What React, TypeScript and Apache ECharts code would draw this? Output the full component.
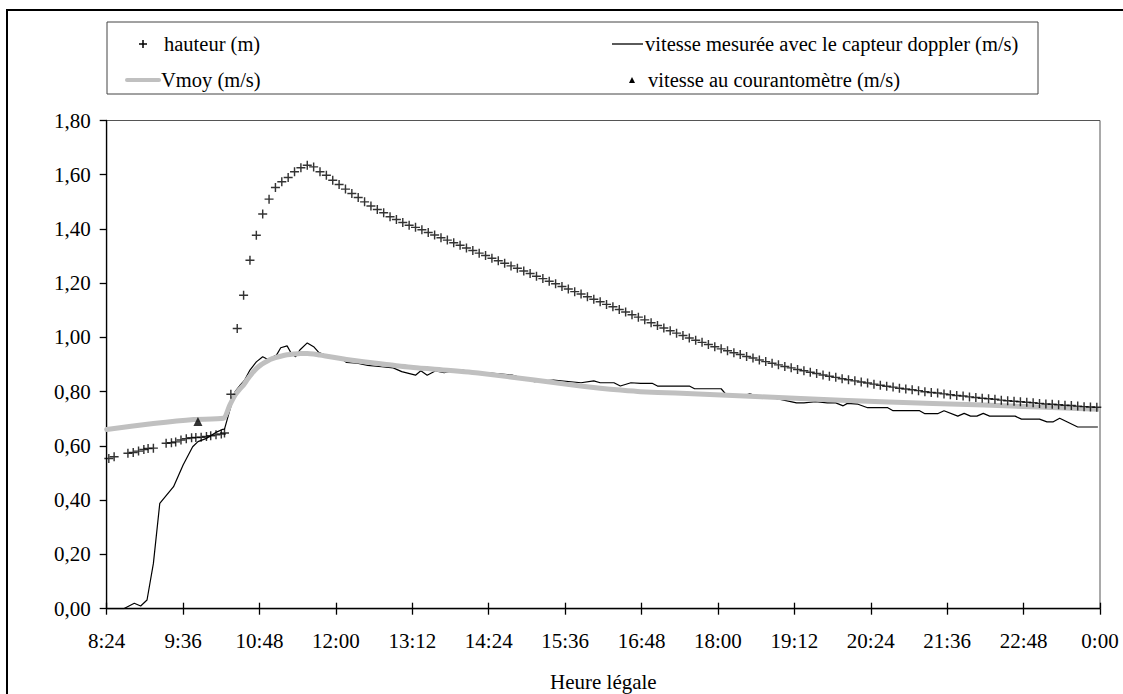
import React, { useEffect, useRef } from "react";
import * as echarts from "echarts";

// ---- data ----
const xTickMin = "8:24";
const xTickMax = "24:00";
const xTickInterval = 72; // minutes
const yTicks = { min: 0, max: 1.8, interval: 0.2 };

// hauteur (m): early readings (irregular) then a regular 6-minute record
const hauteurEarlyTimes = ["8:26","8:31","8:44","8:49","8:54","8:59","9:03","9:08","9:20","9:25","9:29","9:34","9:39","9:44","9:48","9:53","9:58","10:02","10:07","10:12","10:15"];
const hauteurEarlyValues = [0.554,0.560,0.573,0.576,0.581,0.587,0.591,0.592,0.610,0.612,0.615,0.622,0.627,0.630,0.631,0.632,0.635,0.638,0.641,0.644,0.648];
const hauteurStart = "10:21";
const hauteurStep = 6;
const hauteurValues = [
  0.791,1.033,1.156,1.285,1.377,1.455,1.510,1.553,1.574,1.590,
  1.611,1.626,1.635,1.629,1.611,1.598,1.580,1.564,1.547,1.531,
  1.516,1.500,1.485,1.472,1.460,1.445,1.435,1.424,1.414,
  1.406,1.397,1.387,1.378,1.368,1.359,1.349,1.340,1.330,1.321,
  1.311,1.302,1.292,1.283,1.274,1.264,1.255,1.245,1.236,1.226,
  1.217,1.207,1.198,1.188,1.179,1.169,1.160,1.150,1.141,1.132,
  1.122,1.113,1.103,1.094,1.084,1.075,
  1.065,1.054,1.044,1.035,1.025,1.016,1.007,0.998,0.990,0.982,
  0.974,0.966,0.958,0.951,0.944,0.937,0.930,0.924,0.917,0.911,
  0.905,0.899,0.893,0.888,0.882,0.877,0.872,0.867,0.862,0.857,
  0.853,0.848,0.844,0.840,0.836,0.832,0.828,0.824,0.820,0.817,
  0.813,0.810,0.807,0.804,0.800,0.797,0.795,0.792,0.789,0.786,
  0.784,0.781,0.779,0.776,0.774,0.772,0.769,0.767,0.765,0.763,
  0.761,0.759,0.757,0.755,0.754,0.752,0.750,0.749,0.747,0.745,
  0.744,0.743
];

// vitesse mesurée avec le capteur doppler (m/s)
const dopplerTimes = ["8:24","8:40","8:50","8:56","9:02","9:08","9:14","9:27","9:36","9:45","9:50","9:58","10:08","10:13","10:15","10:20","10:25","10:30","10:34","10:39","10:45","10:51","10:56","11:04","11:08","11:14","11:18","11:22","11:26","11:33","11:39","11:44","11:50","11:56","12:01","12:07","12:10","12:20","12:30","12:43","12:54","13:02","13:15","13:20","13:26","13:34","13:42","13:56","14:10","14:23","14:46","15:07","15:25","15:51","16:03","16:09","16:22","16:28","16:38","16:47","16:58","17:03","17:33","17:38","18:03","18:08","18:26","18:30","18:34","18:50","19:14","19:21","19:32","19:43","19:51","19:58","20:02","20:12","20:21","20:40","20:45","21:10","21:15","21:27","21:33","21:46","21:52","21:58","22:04","22:10","22:16","22:40","22:46","23:03","23:10","23:16","23:22","23:39","23:58"];
const dopplerValues = [0,0,0.02,0.01,0.032,0.167,0.388,0.45,0.53,0.597,0.616,0.628,0.652,0.661,0.662,0.732,0.80,0.825,0.843,0.88,0.91,0.929,0.919,0.935,0.962,0.969,0.941,0.929,0.954,0.98,0.966,0.944,0.935,0.925,0.92,0.917,0.908,0.905,0.897,0.892,0.888,0.874,0.861,0.877,0.861,0.877,0.87,0.882,0.872,0.87,0.861,0.837,0.843,0.833,0.84,0.833,0.833,0.821,0.833,0.831,0.831,0.821,0.821,0.811,0.811,0.788,0.788,0.792,0.788,0.779,0.759,0.759,0.763,0.759,0.759,0.748,0.757,0.754,0.741,0.741,0.730,0.730,0.719,0.719,0.730,0.710,0.720,0.710,0.710,0.720,0.710,0.710,0.699,0.699,0.689,0.689,0.702,0.670,0.670];

// Vmoy (m/s)
const vmoyTimes = ["8:24","9:08","9:46","10:14","10:20","10:25","10:29","10:33","10:37","10:41","10:45","10:49","10:54","10:58","11:03","11:08","11:14","11:20","11:27","11:33","11:39","11:45","12:10","12:42","13:13","13:45","14:16","15:07","15:36","16:09","16:28","16:47","17:20","18:03","19:18","20:34","22:11","23:58"];
const vmoyValues = [0.661,0.683,0.698,0.702,0.751,0.788,0.808,0.825,0.848,0.868,0.885,0.898,0.910,0.919,0.926,0.931,0.936,0.939,0.941,0.941,0.939,0.935,0.919,0.903,0.889,0.879,0.868,0.843,0.828,0.813,0.806,0.800,0.795,0.788,0.775,0.763,0.751,0.735];

// vitesse au courantomètre (m/s)
const courantTimes = ["9:50"];
const courantValues = [0.69];

const seriesNames = [
  "hauteur (m)",
  "vitesse mesurée avec le capteur doppler (m/s)",
  "Vmoy (m/s)",
  "vitesse au courantomètre (m/s)",
];
const xAxisTitle = "Heure légale";

// ---- helpers ----
const FONT = "Liberation Serif, Times New Roman, serif";
const toMin = (s: string) => {
  const [h, m] = s.split(":").map(Number);
  return h * 60 + m;
};
const pairs = (times: string[], vals: number[]) => times.map((t, i) => [toMin(t), vals[i]]);
const fmtTime = (v: number) => {
  const m = ((Math.round(v) % 1440) + 1440) % 1440;
  return Math.floor(m / 60) + ":" + String(m % 60).padStart(2, "0");
};

const plusPath = "path://M0,4.2H10V5.8H0Z M4.2,0H5.8V10H4.2Z";

export default function App() {
  const ref = useRef<HTMLDivElement>(null);
  useEffect(() => {
    if (!ref.current) return;
    const chart = echarts.init(ref.current, undefined, { renderer: "svg" });
    const hStart = toMin(hauteurStart);
    const hauteurData = [
      ...pairs(hauteurEarlyTimes, hauteurEarlyValues),
      ...hauteurValues.map((v, i) => [hStart + i * hauteurStep, v]),
    ];
    const axisText = { fontFamily: FONT, fontSize: 21, color: "#000" };
    const legendText = (text: string, x: number, y: number) => ({
      type: "text",
      x,
      y,
      style: { text, fontFamily: FONT, fontSize: 20.5, fill: "#000", verticalAlign: "middle" },
    });
    chart.setOption({
      animation: false,
      backgroundColor: "#fff",
      textStyle: { fontFamily: FONT },
      grid: {
        left: 106.7,
        right: 23,
        top: 120.5,
        bottom: 85.3,
        show: true,
        borderColor: "#555",
        borderWidth: 1,
        backgroundColor: "transparent",
        containLabel: false,
        outerBoundsMode: "none",
      },
      xAxis: [
        {
          type: "value",
          min: toMin(xTickMin),
          max: toMin(xTickMax),
          interval: xTickInterval,
          position: "bottom",
          name: xAxisTitle,
          nameLocation: "middle",
          nameGap: 63,
          nameTextStyle: axisText,
          axisLine: { show: true, onZero: false, lineStyle: { color: "#000", width: 1.3 } },
          axisTick: { show: true, inside: false, length: 6, lineStyle: { color: "#000", width: 1.3 } },
          axisLabel: { ...axisText, margin: 22, formatter: fmtTime },
          splitLine: { show: false },
        },
        {
          type: "value",
          min: toMin(xTickMin),
          max: toMin(xTickMax),
          interval: xTickInterval,
          position: "bottom",
          offset: 0,
          axisLine: { show: false, onZero: false },
          axisTick: { show: true, inside: true, length: 6, lineStyle: { color: "#000", width: 1.3 } },
          axisLabel: { show: false },
          splitLine: { show: false },
        },
      ],
      yAxis: {
        type: "value",
        min: yTicks.min,
        max: yTicks.max,
        interval: yTicks.interval,
        axisLine: { show: true, onZero: false, lineStyle: { color: "#000", width: 1.3 } },
        axisTick: { show: true, inside: false, length: 7, lineStyle: { color: "#000", width: 1.3 } },
        axisLabel: { ...axisText, margin: 16, formatter: (v: number) => v.toFixed(2).replace(".", ",") },
        splitLine: { show: false },
      },
      series: [
        {
          name: seriesNames[1],
          type: "line",
          xAxisIndex: 0,
          data: pairs(dopplerTimes, dopplerValues),
          symbol: "none",
          lineStyle: { color: "#000", width: 1.2 },
          itemStyle: { color: "#000" },
          z: 2,
        },
        {
          name: seriesNames[2],
          type: "line",
          xAxisIndex: 0,
          data: pairs(vmoyTimes, vmoyValues),
          symbol: "none",
          smooth: 0.2,
          lineStyle: { color: "#c0c0c0", width: 5, cap: "round", join: "round" },
          itemStyle: { color: "#c0c0c0" },
          z: 3,
        },
        {
          name: seriesNames[0],
          type: "scatter",
          xAxisIndex: 0,
          data: hauteurData,
          symbol: plusPath,
          symbolSize: 9,
          itemStyle: { color: "#000" },
          z: 4,
        },
        {
          name: seriesNames[3],
          type: "scatter",
          xAxisIndex: 0,
          data: pairs(courantTimes, courantValues),
          symbol: "triangle",
          symbolSize: 9,
          itemStyle: { color: "#000" },
          z: 5,
        },
      ],
      graphic: [
        {
          type: "rect",
          silent: true,
          z: -10,
          shape: { x: 7, y: 10, width: 1200, height: 800 },
          style: { fill: "none", stroke: "#000", lineWidth: 2 },
        },
        {
          type: "rect",
          silent: true,
          shape: { x: 107, y: 22, width: 931, height: 72 },
          style: { fill: "#fff", stroke: "#444", lineWidth: 1 },
        },
        {
          type: "group",
          silent: true,
          children: [
            { type: "line", shape: { x1: 139, y1: 44, x2: 147, y2: 44 }, style: { stroke: "#000", lineWidth: 1.5 } },
            { type: "line", shape: { x1: 143, y1: 40, x2: 143, y2: 48 }, style: { stroke: "#000", lineWidth: 1.5 } },
            legendText(seriesNames[0], 164, 44),
            { type: "line", shape: { x1: 127, y1: 80, x2: 159, y2: 80 }, style: { stroke: "#c0c0c0", lineWidth: 4, lineCap: "round" } },
            legendText(seriesNames[2], 161, 80),
            { type: "line", shape: { x1: 612, y1: 44, x2: 643, y2: 44 }, style: { stroke: "#000", lineWidth: 1.3 } },
            legendText(seriesNames[1], 645, 44),
            { type: "polygon", shape: { points: [[629, 83], [635, 83], [632, 77]] }, style: { fill: "#000" } },
            legendText(seriesNames[3], 648, 80),
          ],
        },
      ],
    });
    return () => chart.dispose();
  }, []);
  return (
    <div
      ref={ref}
      style={{ position: "fixed", left: 0, top: 0, width: 1123, height: 694, background: "#fff" }}
    />
  );
}
